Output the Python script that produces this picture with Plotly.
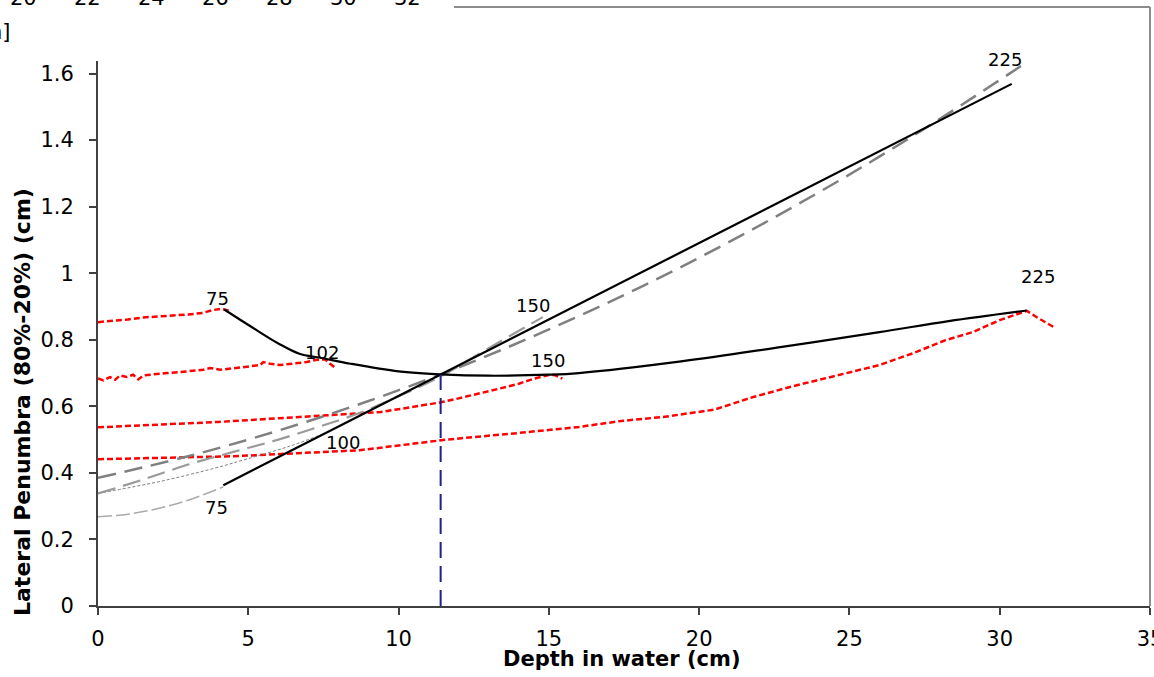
import plotly.graph_objects as go

# ---------------- data ----------------
red75_x = [0.0, 0.5, 1.0, 1.5, 2.0, 2.5, 3.0, 3.5, 3.8, 4.1, 4.35]
red75_y = [0.853, 0.856, 0.861, 0.867, 0.870, 0.872, 0.876, 0.881, 0.889, 0.893, 0.887]

red102_x = [0.0, 0.18, 0.40, 0.57, 0.73, 0.95, 1.17, 1.34, 1.51, 1.84, 2.29, 2.73, 3.17, 3.50,
            3.73, 4.06, 4.50, 4.95, 5.39, 5.50, 5.72, 6.05, 6.50, 6.94, 7.28, 7.55, 7.72, 7.89]
red102_y = [0.684, 0.678, 0.688, 0.680, 0.693, 0.688, 0.695, 0.681, 0.693, 0.695, 0.700, 0.703,
            0.706, 0.710, 0.715, 0.710, 0.714, 0.718, 0.724, 0.733, 0.728, 0.724, 0.728, 0.733,
            0.740, 0.741, 0.728, 0.716]

red150_x = [0.0, 2.0, 4.0, 6.7, 8.7, 9.4, 10.4, 11.4, 12.0, 12.7, 13.3, 14.0, 14.5, 15.0, 15.2, 15.45]
red150_y = [0.537, 0.546, 0.553, 0.568, 0.580, 0.583, 0.597, 0.612, 0.624, 0.638, 0.652, 0.668,
            0.683, 0.694, 0.694, 0.683]

red225_x = [0.0, 4.5, 8.7, 11.6, 14.0, 16.0, 17.4, 18.8, 20.5, 21.8, 23.1, 24.5, 26.0, 27.1,
            28.2, 29.1, 30.0, 30.9, 31.3, 31.8]
red225_y = [0.441, 0.450, 0.468, 0.500, 0.520, 0.538, 0.556, 0.568, 0.590, 0.628, 0.660, 0.690,
            0.724, 0.759, 0.799, 0.823, 0.859, 0.887, 0.864, 0.838]

peak_x = [4.2, 5.1, 6.0, 6.7, 7.4, 8.4, 10.0, 11.4, 13.0, 15.0, 16.0, 19.4, 22.7, 26.0, 28.3, 30.9]
peak_y = [0.891, 0.839, 0.789, 0.758, 0.746, 0.728, 0.705, 0.696, 0.692, 0.695, 0.700, 0.735,
          0.778, 0.823, 0.856, 0.888]

calc_x = [4.17, 7.6, 11.4, 14.8, 30.4]
calc_y = [0.363, 0.521, 0.696, 0.852, 1.569]

g225_x = [0, 3, 6, 9, 12, 15, 18, 21, 24, 27, 30.9]
g225_y = [0.385, 0.450, 0.527, 0.616, 0.717, 0.831, 0.956, 1.094, 1.244, 1.406, 1.634]

g150_x = [0, 1.5, 3, 4.5, 6, 7.4, 8.7, 10, 11.4, 13, 14.8]
g150_y = [0.338, 0.380, 0.425, 0.463, 0.500, 0.540, 0.580, 0.630, 0.690, 0.775, 0.868]

g100_x = [0, 1, 2, 3, 4, 5, 6.4, 7.6]
g100_y = [0.338, 0.355, 0.373, 0.394, 0.417, 0.443, 0.481, 0.521]

g75_x = [0, 1, 2, 3, 4.17]
g75_y = [0.268, 0.276, 0.293, 0.318, 0.358]

vert_x = [11.4, 11.4]
vert_y = [0.0, 0.696]

label_text = ["75", "102", "100", "75", "150", "150", "225", "225"]
label_x = [3.99, 7.45, 8.15, 3.93, 14.47, 14.97, 30.17, 31.27]
label_y = [0.925, 0.763, 0.490, 0.297, 0.904, 0.739, 1.641, 0.989]

x_ticks = [0, 5, 10, 15, 20, 25, 30, 35]
y_ticks = [0, 0.2, 0.4, 0.6, 0.8, 1.0, 1.2, 1.4, 1.6]
y_tick_text = ["0", "0.2", "0.4", "0.6", "0.8", "1", "1.2", "1.4", "1.6"]

stray_ticks = ["20", "22", "24", "26", "28", "30", "32"]

# ---------------- figure ----------------
W, H = 1154, 677
L, R, T, B = 98, 4, 7, 71
PW, PH = W - L - R, H - T - B
FONT = "DejaVu Sans"


def px_x(p):
    return (p - L) / PW


def px_y(p):
    return (H - B - p) / PH


fig = go.Figure()

RED = "#FF0000"
red_dash = "6px,3px"
for xs, ys in [(red75_x, red75_y), (red102_x, red102_y), (red150_x, red150_y), (red225_x, red225_y)]:
    fig.add_trace(go.Scatter(x=xs, y=ys, mode="lines",
                             line=dict(color=RED, width=2.5, dash=red_dash)))

fig.add_trace(go.Scatter(x=g75_x, y=g75_y, mode="lines", line_shape="spline",
                         line=dict(color="#AAAAAA", width=1.5, dash="14px,4px")))
fig.add_trace(go.Scatter(x=g100_x, y=g100_y, mode="lines", line_shape="spline",
                         line=dict(color="#808080", width=1, dash="3px,2px")))
fig.add_trace(go.Scatter(x=g150_x, y=g150_y, mode="lines", line_shape="spline",
                         line=dict(color="#9A9A9A", width=2.2, dash="18px,8px")))
fig.add_trace(go.Scatter(x=g225_x, y=g225_y, mode="lines", line_shape="spline",
                         line=dict(color="#808080", width=2.5, dash="18px,9px")))

fig.add_trace(go.Scatter(x=peak_x, y=peak_y, mode="lines", line_shape="spline",
                         line=dict(color="black", width=2.2)))
fig.add_trace(go.Scatter(x=calc_x, y=calc_y, mode="lines",
                         line=dict(color="black", width=2.2)))

fig.add_trace(go.Scatter(x=vert_x, y=vert_y, mode="lines",
                         line=dict(color="#1F1F8F", width=2, dash="16px,8px")))

for t, x, y in zip(label_text, label_x, label_y):
    fig.add_annotation(x=x, y=y, text=t, showarrow=False,
                       font=dict(family=FONT, size=18, color="black"))

# frame (top and right) in gray
fig.add_shape(type="line", xref="paper", yref="paper", x0=px_x(454), x1=1, y0=1, y1=1,
              line=dict(color="#8C8C8C", width=2))
fig.add_shape(type="line", xref="paper", yref="paper", x0=1, x1=1, y0=0, y1=1,
              line=dict(color="#8C8C8C", width=2))

# overlapping stray piece of another chart in the top-left corner
fig.add_shape(type="rect", xref="paper", yref="paper", layer="above",
              x0=px_x(-5), x1=px_x(453), y0=px_y(61), y1=px_y(-5),
              fillcolor="white", line=dict(width=0))
for i, t in enumerate(stray_ticks):
    fig.add_annotation(xref="paper", yref="paper", x=px_x(23 + 64 * i), y=px_y(12),
                       xanchor="center", yanchor="bottom", text=t, showarrow=False,
                       font=dict(family=FONT, size=21, color="black"))
fig.add_annotation(xref="paper", yref="paper", x=px_x(13), y=px_y(32),
                   xanchor="right", yanchor="middle", text="n]", showarrow=False,
                   font=dict(family=FONT, size=21, color="black"))

# axis titles
fig.add_annotation(xref="paper", yref="paper", x=px_x(622), y=px_y(659),
                   xanchor="center", yanchor="middle", text="<b>Depth in water (cm)</b>",
                   showarrow=False, font=dict(family=FONT, size=21, color="black"))
fig.add_annotation(xref="paper", yref="paper", x=px_x(22), y=px_y(402),
                   xanchor="center", yanchor="middle", textangle=-90,
                   text="<b>Lateral Penumbra (80%-20%) (cm)</b>",
                   showarrow=False, font=dict(family=FONT, size=22, color="black"))

fig.update_layout(
    width=W, height=H,
    margin=dict(l=L, r=R, t=T, b=B, pad=0, autoexpand=False),
    paper_bgcolor="white", plot_bgcolor="white",
    showlegend=False,
    font=dict(family=FONT, size=21, color="black"),
    xaxis=dict(range=[0, 35], tickvals=x_ticks, showgrid=False, zeroline=False,
               showline=True, linecolor="#404040", linewidth=2, automargin=False,
               ticks="outside", ticklen=7, tickwidth=1.5, tickcolor="#404040",
               ticklabelstandoff=6, ticklabeloverflow="allow",
               tickfont=dict(family=FONT, size=21)),
    yaxis=dict(range=[0, 1.8], tickvals=y_ticks, ticktext=y_tick_text, showgrid=False,
               zeroline=False, showline=True, linecolor="#404040", linewidth=2, automargin=False,
               ticks="outside", ticklen=7, tickwidth=1.5, tickcolor="#404040",
               ticklabelstandoff=11, ticklabeloverflow="allow",
               tickfont=dict(family=FONT, size=21)),
)

fig.write_html("out.html")
